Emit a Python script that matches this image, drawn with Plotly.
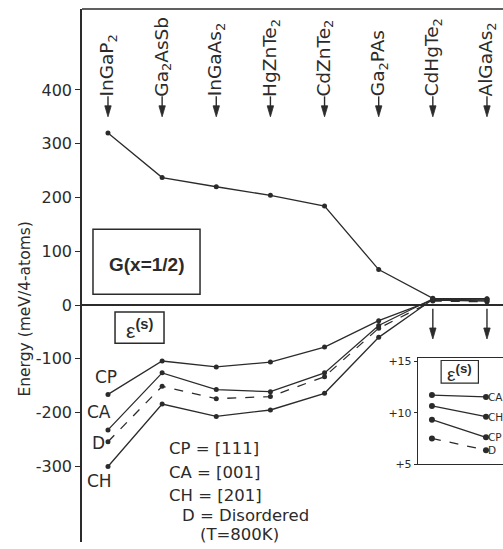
import plotly.graph_objects as go

# ---- data ----
compounds = ["InGaP<sub>2</sub>", "Ga<sub>2</sub>AsSb", "InGaAs<sub>2</sub>", "HgZnTe<sub>2</sub>",
             "CdZnTe<sub>2</sub>", "Ga<sub>2</sub>PAs", "CdHgTe<sub>2</sub>", "AlGaAs<sub>2</sub>"]
G_half = [320, 237, 220, 204, 184, 66, 12.5, 12]
eps_CP = [-166, -104, -115, -106, -78, -29, 9.3, 7.6]
eps_CA = [-232, -126, -157, -161, -126, -38, 11.7, 11.5]
eps_D = [-254, -151, -174, -170, -133, -43, 7.5, 6.3]
eps_CH = [-300, -184, -207, -195, -164, -60, 10.7, 9.6]

inset_x = [0, 1]
inset_CA = [11.73, 11.54]
inset_CH = [10.67, 9.62]
inset_CP = [9.33, 7.6]
inset_D = [7.5, 6.35]
inset_names = ["CA", "CH", "CP", "D"]

yticks = [400, 300, 200, 100, 0, -100, -200, -300]
ytick_text = ["400", "300", "200", "100", "0", "-100", "-200", "-300"]
inset_ticks = [15, 10, 5]
inset_ticktext = ["+15", "+10", "+5"]

INK = "#2b2b2b"
FONT = "DejaVu Sans"
idx = list(range(len(compounds)))

fig = go.Figure()

def line(xs, ys, dash="solid", xa="x", ya="y", msize=5):
    fig.add_trace(go.Scatter(x=xs, y=ys, mode="lines+markers", xaxis=xa, yaxis=ya,
                             line=dict(color=INK, width=1.3, dash=dash),
                             marker=dict(color=INK, size=msize), showlegend=False,
                             hoverinfo="skip"))

line(idx, G_half)
line(idx, eps_CP)
line(idx, eps_CA)
line(idx, eps_D, dash="dash")
line(idx, eps_CH)

line(inset_x, inset_CA, xa="x2", ya="y2", msize=6)
line(inset_x, inset_CH, xa="x2", ya="y2", msize=6)
line(inset_x, inset_CP, xa="x2", ya="y2", msize=6)
line(inset_x, inset_D, dash="dash", xa="x2", ya="y2", msize=6)

ann = []
shapes = []

def down_arrow(xv, y_tail, y_tip):
    shapes.append(dict(type="line", xref="x", yref="y", x0=xv, x1=xv, y0=y_tail, y1=y_tip + 8,
                       line=dict(color=INK, width=1.4)))
    shapes.append(dict(type="path", xref="x", yref="y", xsizemode="pixel", ysizemode="pixel",
                       xanchor=xv, yanchor=y_tip, path="M -3.2 11 L 3.2 11 L 0 0 Z",
                       fillcolor=INK, line=dict(color=INK, width=0.8)))

# category labels + arrows
for i, name in enumerate(compounds):
    ann.append(dict(x=i, y=384, xref="x", yref="y", text=name, textangle=-90,
                    showarrow=False, xanchor="center", yanchor="bottom",
                    font=dict(family=FONT, size=18.5, color=INK)))
    down_arrow(i, 388, 350)

# down arrows below zero at CdHgTe2, AlGaAs2
for i in (6, 7):
    down_arrow(i, -7, -63)

# curve labels on the left
for txt, xv, yv in (("CP", -0.277, -134), ("CA", -0.425, -198), ("D", -0.33, -257),
                    ("CH", -0.425, -327)):
    ann.append(dict(x=xv, y=yv, xref="x", yref="y", text=txt, showarrow=False,
                    xanchor="left", yanchor="middle",
                    font=dict(family=FONT, size=17, color=INK)))

# key text
key = [("CP = [111]", 1.09, -267), ("CA = [001]", 1.09, -312), ("CH = [201]", 1.09, -354),
       ("D = Disordered", 1.33, -392), ("(T=800K)", 1.66, -426)]
for txt, xv, yv in key:
    ann.append(dict(x=xv, y=yv, xref="x", yref="y", text=txt, showarrow=False,
                    xanchor="left", yanchor="middle",
                    font=dict(family=FONT, size=16.5, color=INK)))

# G box
shapes.append(dict(type="rect", xref="x", yref="y", x0=-0.277, x1=1.70, y0=20, y1=141,
                   line=dict(color=INK, width=1.5)))
ann.append(dict(x=0.72, y=76, xref="x", yref="y", text="<b>G(x=1/2)</b>", showarrow=False,
                font=dict(family="Liberation Sans", size=19, color=INK)))
# eps box
shapes.append(dict(type="rect", xref="x", yref="y", x0=0.13, x1=1.035, y0=-71, y1=-13,
                   line=dict(color=INK, width=1.5)))
ann.append(dict(x=0.58, y=-45, xref="x", yref="y", text="ε<sup><b>(s)</b></sup>",
                showarrow=False,
                font=dict(family="Liberation Sans", size=21, color=INK)))

# y title
ann.append(dict(x=-0.135, y=-8, xref="paper", yref="y", text="Energy (meV/4-atoms)",
                textangle=-90, showarrow=False, xanchor="center", yanchor="middle",
                font=dict(family=FONT, size=15.5, color=INK)))

# inset labels
for nm, vals in zip(inset_names, (inset_CA, inset_CH, inset_CP, inset_D)):
    ann.append(dict(x=1.02, y=vals[1], xref="x2", yref="y2", text=nm, showarrow=False,
                    xanchor="left", yanchor="middle", xshift=-1,
                    font=dict(family=FONT, size=10.5, color=INK)))
# inset eps box
shapes.append(dict(type="rect", xref="x2", yref="y2", x0=0.17, x1=0.86, y0=12.9, y1=15.1,
                   line=dict(color=INK, width=1.2)))
ann.append(dict(x=0.51, y=13.9, xref="x2", yref="y2", text="ε<sup><b>(s)</b></sup>",
                showarrow=False, font=dict(family="Liberation Sans", size=19, color=INK)))

# top frame line of main plot
shapes.append(dict(type="line", xref="paper", yref="paper", x0=0, x1=1, y0=1, y1=1,
                   line=dict(color=INK, width=1.5)))

fig.update_layout(
    width=503, height=549,
    margin=dict(l=82, r=0, t=9, b=0),
    paper_bgcolor="white", plot_bgcolor="white",
    showlegend=False,
    xaxis=dict(range=[-0.48, 7.296], visible=False, showgrid=False, zeroline=False),
    yaxis=dict(range=[-440.4, 550.4], tickvals=yticks, ticktext=ytick_text, ticks="outside",
               ticklen=5, tickwidth=1.3, tickcolor=INK, showline=True, linecolor=INK,
               linewidth=1.5, showgrid=False, zeroline=True, zerolinecolor=INK,
               zerolinewidth=1.5, tickfont=dict(family=FONT, size=16, color=INK)),
    xaxis2=dict(domain=[0.798, 1.0], range=[-0.259, 1.315], anchor="y2",
                showline=True, linecolor=INK, linewidth=1.3, mirror=True,
                showticklabels=False, ticks="", showgrid=False, zeroline=False),
    yaxis2=dict(domain=[0.1463, 0.3444], range=[5, 15.3], anchor="x2",
                tickvals=inset_ticks, ticktext=inset_ticktext, ticks="outside",
                ticklen=3, tickcolor=INK, showline=True, linecolor=INK, linewidth=1.3,
                showgrid=False, zeroline=False,
                tickfont=dict(family=FONT, size=11, color=INK)),
    annotations=ann,
    shapes=shapes,
)

fig.write_html("out.html")
